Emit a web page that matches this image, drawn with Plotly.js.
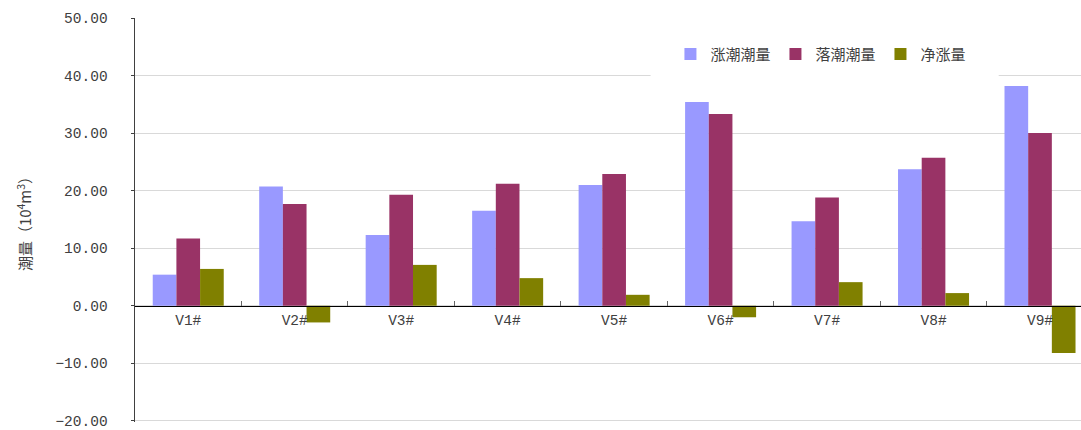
<!DOCTYPE html>
<html>
<head>
<meta charset="utf-8">
<script src="https://cdn.plot.ly/plotly-3.0.1.min.js"></script>
<style>html,body{margin:0;padding:0;background:#fff;}#chart{width:1081px;height:430px;}</style>
</head>
<body>
<div id="chart"></div>
<script>
const categories = ['V1#','V2#','V3#','V4#','V5#','V6#','V7#','V8#','V9#'];
const floodTide = [5.4, 20.7, 12.3, 16.5, 21.0, 35.4, 14.7, 23.7, 38.2];
const ebbTide   = [11.7, 17.7, 19.3, 21.2, 22.9, 33.3, 18.8, 25.7, 30.0];
const netFlow   = [6.4, -2.9, 7.1, 4.8, 1.9, -2.0, 4.1, 2.2, -8.2];
const seriesNames = ['涨潮潮量', '落潮潮量', '净涨量'];
const seriesColors = ['#9999FF', '#993366', '#808000'];
const yTicks = [-20, -10, 0, 10, 20, 30, 40, 50];

const seriesValues = [floodTide, ebbTide, netFlow];
const traces = seriesValues.map((vals, i) => ({
  type: 'bar',
  x: categories,
  y: vals,
  name: seriesNames[i],
  marker: {color: seriesColors[i]},
  hoverinfo: 'x+y+name'
}));

const numFont = {family: 'Liberation Mono, monospace', size: 14.5, color: '#404040'};
const cjkFont = 'Noto Sans CJK SC, sans-serif';

const yMin = -20.2, yMax = 50;

const layout = {
  width: 1081, height: 430,
  margin: {l: 135, r: 0, t: 18, b: 8, pad: 0},
  paper_bgcolor: '#ffffff',
  plot_bgcolor: '#ffffff',
  barmode: 'group',
  bargap: 0.333,
  bargroupgap: 0,
  showlegend: true,
  legend: {
    orientation: 'h',
    x: 0.566, xanchor: 'left',
    y: 0.91, yanchor: 'middle',
    bgcolor: 'rgba(255,255,255,0)',
    font: {family: cjkFont, size: 15, color: '#404040'},
    traceorder: 'normal'
  },
  xaxis: {
    type: 'category',
    range: [-0.5, 8.385],
    anchor: 'free',
    position: (0 - yMin) / (yMax - yMin),
    showline: true, linecolor: '#000000', linewidth: 1.5,
    ticks: 'inside', tickson: 'boundaries', ticklen: 5, tickcolor: '#666666', tickwidth: 1,
    showgrid: false, zeroline: false,
    tickfont: numFont,
    fixedrange: true
  },
  yaxis: {
    range: [yMin, yMax],
    tickvals: yTicks,
    tickformat: '.2f',
    showgrid: true, gridcolor: '#d9d9d9', gridwidth: 1,
    zeroline: false,
    showline: true, linecolor: '#404040', linewidth: 1.5,
    ticks: 'outside', ticklen: 3, tickcolor: '#404040',
    ticklabelstandoff: 20,
    ticklabeloverflow: 'allow',
    tickfont: numFont,
    title: {
      text: '潮量（10<sup>4</sup>m<sup>3</sup>）',
      font: {family: cjkFont, size: 15, color: '#404040'},
      standoff: 20
    },
    automargin: false,
    fixedrange: true
  },
  shapes: [{
    type: 'rect', xref: 'paper', yref: 'paper', layer: 'above',
    x0: 0.545, x1: 0.913, y0: 0.842, y1: 0.878,
    fillcolor: '#ffffff', line: {width: 0}
  }]
};

Plotly.newPlot('chart', traces, layout, {displayModeBar: false, staticPlot: true});
</script>
</body>
</html>
